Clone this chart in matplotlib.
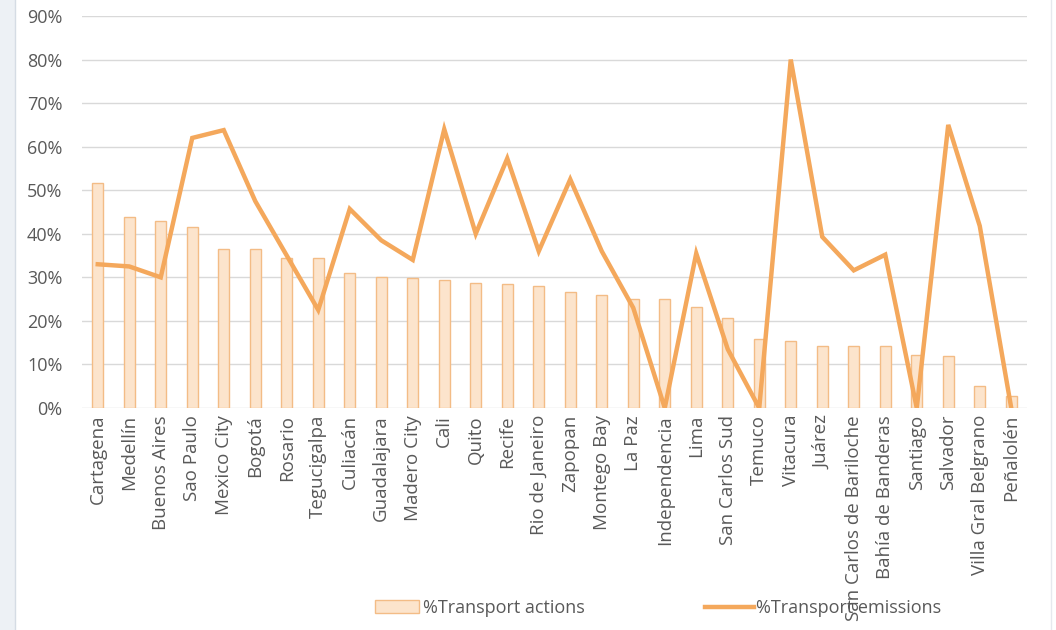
import numpy as np
import matplotlib
matplotlib.use("Agg")
import matplotlib.pyplot as plt
from matplotlib.patches import Rectangle
from matplotlib.lines import Line2D

plt.rcParams['font.family'] = ['Open Sans', 'DejaVu Sans']

cities = ["Cartagena", "Medellín", "Buenos Aires", "Sao Paulo", "Mexico City",
          "Bogotá", "Rosario", "Tegucigalpa", "Culiacán", "Guadalajara",
          "Madero City", "Cali", "Quito", "Recife", "Rio de Janeiro",
          "Zapopan", "Montego Bay", "La Paz", "Independencia", "Lima",
          "San Carlos Sud", "Temuco", "Vitacura", "Juárez",
          "San Carlos de Bariloche", "Bahía de Banderas", "Santiago",
          "Salvador", "Villa Gral Belgrano", "Peñalolén"]

# % of actions that are transport actions
actions = [51.6, 43.8, 42.9, 41.6, 36.5, 36.5, 34.4, 34.4, 31.0, 30.0,
           29.8, 29.4, 28.7, 28.5, 28.0, 26.6, 25.9, 25.0, 25.0, 23.2,
           20.7, 15.9, 15.4, 14.3, 14.3, 14.3, 12.2, 12.0, 5.0, 2.8]

# % of emissions from transport
emissions = [33.0, 32.5, 30.0, 62.0, 63.8, 47.5, 35.0, 22.5, 45.7, 38.5,
             34.0, 64.0, 40.0, 57.3, 36.0, 52.5, 36.0, 23.0, 0.0, 35.5,
             13.5, 0.0, 80.0, 39.3, 31.6, 35.2, 0.0, 65.0, 41.8, 0.0]

bar_face = '#FCE4CC'
bar_edge = '#F3BC86'
line_col = '#F4A85C'
txt_col = '#595959'

fig = plt.figure(figsize=(10.56, 6.3), dpi=100)
fig.patch.set_facecolor('white')
# side strips like the screenshot frame
fig.patches.append(Rectangle((0, 0), 15/1056, 1, transform=fig.transFigure,
                             facecolor='#EDF1F5', edgecolor='none', zorder=0))
fig.add_artist(Line2D([15/1056, 15/1056], [0, 1], color='#D5DCE4', lw=1))
fig.add_artist(Line2D([1051/1056, 1051/1056], [0, 1], color='#E6E9EE', lw=1))

ax = fig.add_axes([82/1056, 1 - 408/630, (1027-82)/1056, (408-16)/630])
x = np.arange(len(cities))
ax.bar(x, np.array(actions)/100, width=0.34, color=bar_face, edgecolor=bar_edge,
       linewidth=1, zorder=2, label='%Transport actions')
ax.plot(x, np.array(emissions)/100, color=line_col, lw=3.2, zorder=3,
        solid_joinstyle='miter', label='%Transport emissions')

ax.set_xlim(-0.5, len(cities) - 0.5)
ax.set_ylim(0, 0.9)
ax.set_yticks(np.arange(0, 0.91, 0.1))
ax.set_yticklabels([f"{int(v)}%" for v in np.arange(0, 91, 10)])
ax.yaxis.grid(True, color='#D9D9D9', lw=1)
ax.set_axisbelow(True)
for s in ax.spines.values():
    s.set_visible(False)
ax.tick_params(axis='both', length=0, colors=txt_col)
ax.tick_params(axis='y', pad=14, labelsize=13)
ax.tick_params(axis='x', pad=5, labelsize=13.5)
ax.set_xticks(x)
ax.set_xticklabels(cities, rotation=90)

bar_h = Rectangle((0, 0), 1, 1, facecolor=bar_face, edgecolor=bar_edge)
line_h = Line2D([0], [0], color=line_col, lw=3.2)
fig.legend([bar_h], ['%Transport actions'], loc='center left',
           bbox_to_anchor=(359/1056, 1 - 608/630), frameon=False,
           fontsize=13, labelcolor=txt_col, handlelength=2.45, handletextpad=0.2)
fig.legend([line_h], ['%Transport emissions'], loc='center left',
           bbox_to_anchor=(689/1056, 1 - 608/630), frameon=False,
           fontsize=13, labelcolor=txt_col, handlelength=2.7, handletextpad=0.1)

fig.savefig('out.png', dpi=100)
